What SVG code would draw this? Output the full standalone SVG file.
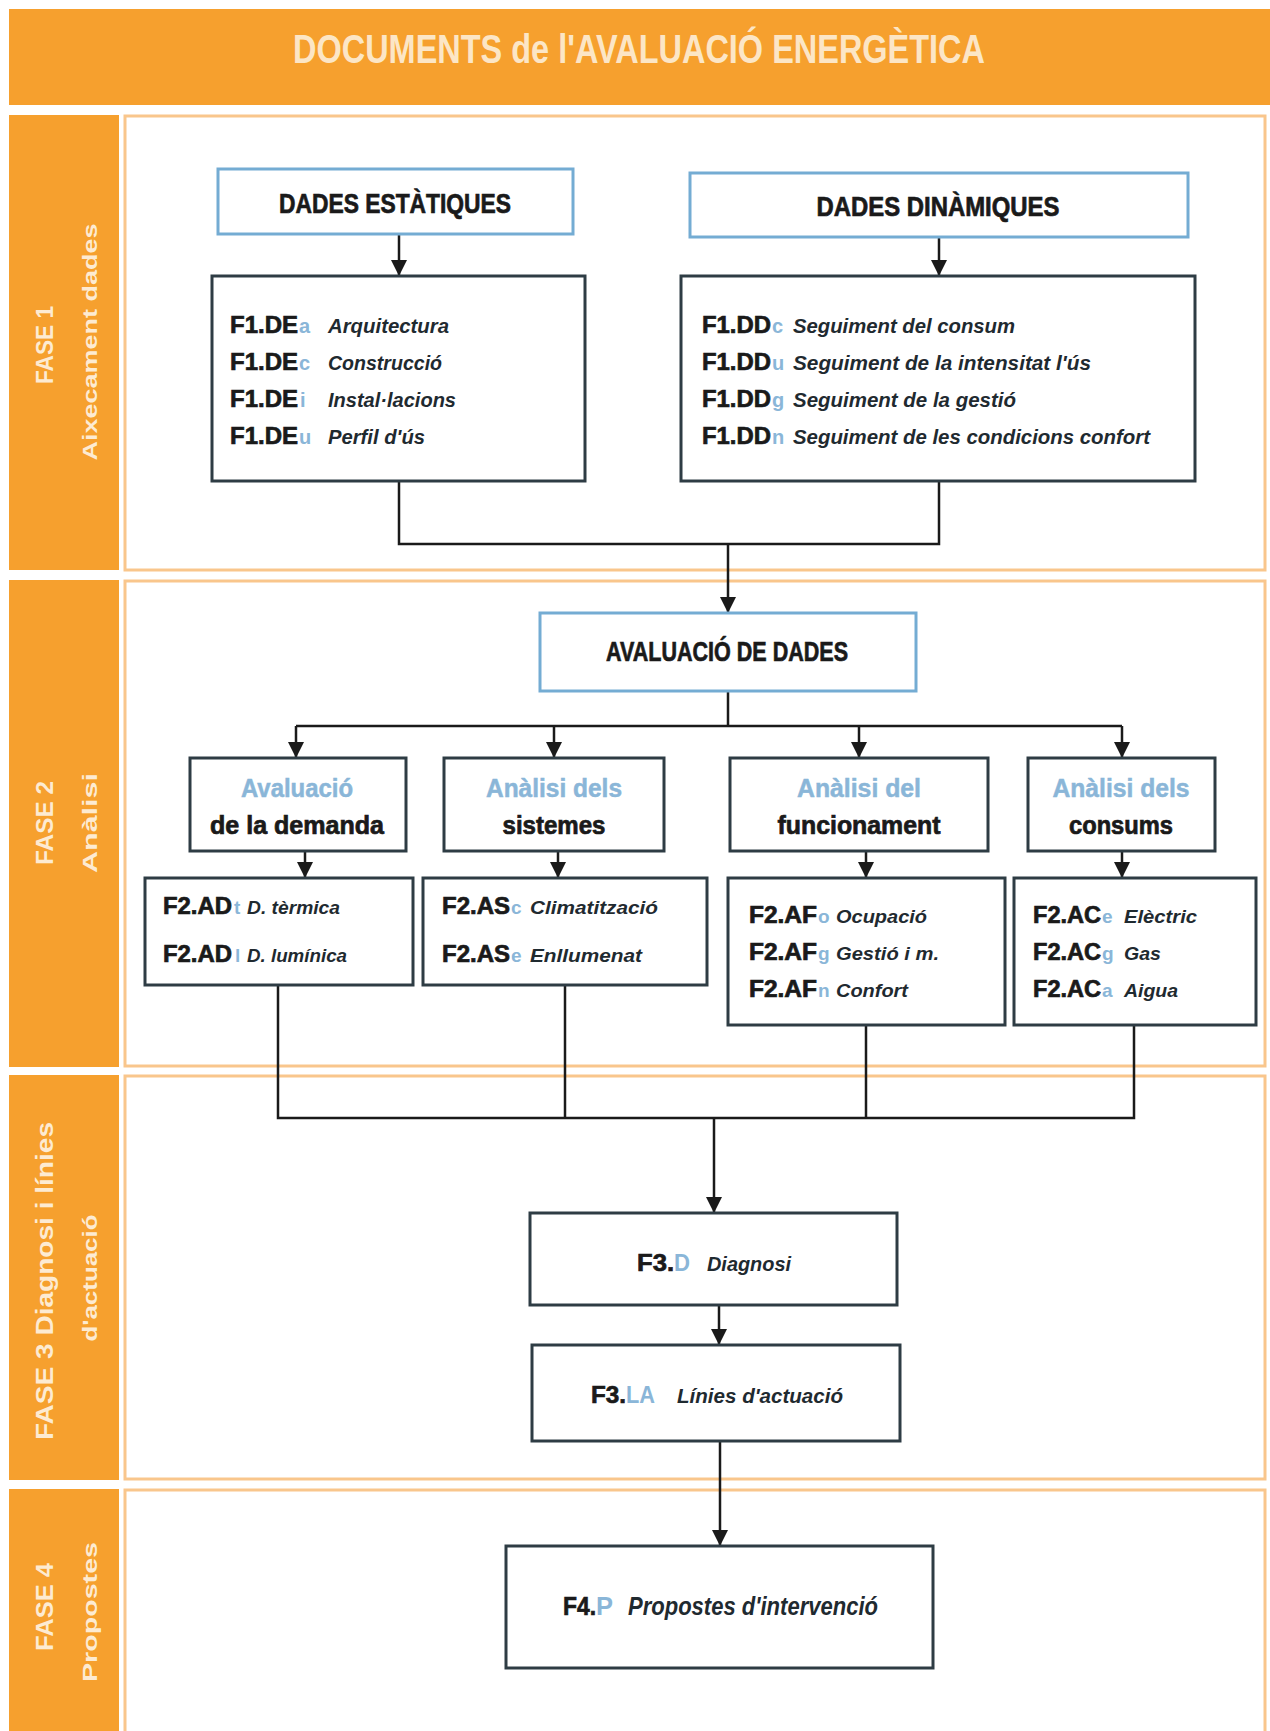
<svg xmlns="http://www.w3.org/2000/svg" width="1270" height="1731" viewBox="0 0 1270 1731">
<style>
.bar{fill:#f6a02e}
.frame{fill:#ffffff;stroke:#f9c68c;stroke-width:3}
.side{font-family:"Liberation Sans",Arial,sans-serif;font-weight:bold;fill:#fdebd2;text-anchor:middle}
.title{font-family:"Liberation Sans",Arial,sans-serif;font-weight:bold;fill:#fce6c6;font-size:40px;text-anchor:middle}
.bbox{fill:#ffffff;stroke:#74acd3;stroke-width:3}
.dbox{fill:#ffffff;stroke:#2e3c44;stroke-width:3}
.h{font-family:"Liberation Sans",Arial,sans-serif;font-weight:bold;fill:#1a1a1a;stroke:#1a1a1a;stroke-width:0.7;text-anchor:middle}
.hb{font-family:"Liberation Sans",Arial,sans-serif;font-weight:bold;fill:#8ab6d8;stroke:#8ab6d8;stroke-width:0.5;text-anchor:middle}
.code{font-family:"Liberation Sans",Arial,sans-serif;font-weight:bold;fill:#1a1a1a;stroke:#1a1a1a;stroke-width:0.7}
.lt{font-family:"Liberation Sans",Arial,sans-serif;font-weight:bold;fill:#8ab6d8}
.desc{font-family:"Liberation Sans",Arial,sans-serif;font-style:italic;font-weight:bold;fill:#1f2a30}
.conn{fill:none;stroke:#1a1a1a;stroke-width:2.5}
</style>
<defs>
<marker id="arr" markerUnits="userSpaceOnUse" markerWidth="16" markerHeight="16" refX="16" refY="8" orient="auto">
<path d="M0,0 L16,8 L0,16 z" fill="#1a1a1a"/>
</marker>
</defs>
<rect x="0" y="0" width="1270" height="1731" fill="#ffffff"/>

<g id="header">
<rect class="bar" x="9" y="9" width="1261" height="96"/>
<text class="title" x="639" y="63" textLength="692" lengthAdjust="spacingAndGlyphs">DOCUMENTS de l'AVALUACIÓ ENERGÈTICA</text>
</g>

<g id="phase1">
<rect class="bar" x="9" y="115" width="110" height="455"/>
<rect class="frame" x="125" y="116" width="1140" height="454"/>
<text class="side" font-size="24" transform="translate(53,345) rotate(-90)" textLength="78" lengthAdjust="spacingAndGlyphs">FASE 1</text>
<text class="side" font-size="21" transform="translate(97,342) rotate(-90)" textLength="237" lengthAdjust="spacingAndGlyphs">Aixecament dades</text>
</g>
<g id="phase2">
<rect class="bar" x="9" y="580" width="110" height="487"/>
<rect class="frame" x="125" y="581" width="1140" height="485"/>
<text class="side" font-size="24" transform="translate(53,823) rotate(-90)" textLength="84" lengthAdjust="spacingAndGlyphs">FASE 2</text>
<text class="side" font-size="21" transform="translate(97,823) rotate(-90)" textLength="100" lengthAdjust="spacingAndGlyphs">Anàlisi</text>
</g>
<g id="phase3">
<rect class="bar" x="9" y="1075" width="110" height="405"/>
<rect class="frame" x="125" y="1076" width="1140" height="403"/>
<text class="side" font-size="24" transform="translate(53,1281) rotate(-90)" textLength="318" lengthAdjust="spacingAndGlyphs">FASE 3  Diagnosi i línies</text>
<text class="side" font-size="21" transform="translate(97,1278) rotate(-90)" textLength="127" lengthAdjust="spacingAndGlyphs">d'actuació</text>
</g>
<g id="phase4">
<rect class="bar" x="9" y="1489" width="110" height="242"/>
<rect class="frame" x="125" y="1490" width="1140" height="245"/>
<text class="side" font-size="24" transform="translate(53,1607) rotate(-90)" textLength="88" lengthAdjust="spacingAndGlyphs">FASE 4</text>
<text class="side" font-size="21" transform="translate(97,1612) rotate(-90)" textLength="140" lengthAdjust="spacingAndGlyphs">Propostes</text>
</g>

<g id="connectors">
<path class="conn" d="M399,234 V276" marker-end="url(#arr)"/>
<path class="conn" d="M939,237 V276" marker-end="url(#arr)"/>
<path class="conn" d="M399,481 V544 H939 V481"/>
<path class="conn" d="M728,544 V613" marker-end="url(#arr)"/>
<path class="conn" d="M728,691 V726"/>
<path class="conn" d="M296,726 H1122"/>
<path class="conn" d="M296,726 V758" marker-end="url(#arr)"/>
<path class="conn" d="M554,726 V758" marker-end="url(#arr)"/>
<path class="conn" d="M859,726 V758" marker-end="url(#arr)"/>
<path class="conn" d="M1122,726 V758" marker-end="url(#arr)"/>
<path class="conn" d="M305,851 V878" marker-end="url(#arr)"/>
<path class="conn" d="M558,851 V878" marker-end="url(#arr)"/>
<path class="conn" d="M866,851 V878" marker-end="url(#arr)"/>
<path class="conn" d="M1122,851 V878" marker-end="url(#arr)"/>
<path class="conn" d="M278,985 V1118 H1134 V1025"/>
<path class="conn" d="M565,985 V1118"/>
<path class="conn" d="M866,1025 V1118"/>
<path class="conn" d="M714,1118 V1213" marker-end="url(#arr)"/>
<path class="conn" d="M719,1305 V1345" marker-end="url(#arr)"/>
<path class="conn" d="M720,1441 V1546" marker-end="url(#arr)"/>
</g>

<g id="dades-estatiques">
<rect class="bbox" x="218" y="169" width="355" height="65"/>
<text class="h" x="395" y="213" font-size="27" textLength="232" lengthAdjust="spacingAndGlyphs">DADES ESTÀTIQUES</text>
</g>
<g id="dades-dinamiques">
<rect class="bbox" x="690" y="173" width="498" height="64"/>
<text class="h" x="938" y="216" font-size="27" textLength="243" lengthAdjust="spacingAndGlyphs">DADES DINÀMIQUES</text>
</g>

<g id="f1-de">
<rect class="dbox" x="212" y="276" width="373" height="205"/>
<text class="code" x="230" y="333" font-size="24" textLength="68" lengthAdjust="spacingAndGlyphs">F1.DE</text>
<text class="lt" x="299" y="333" font-size="20">a</text>
<text class="desc" x="328" y="333" font-size="21" font-weight="normal" textLength="121" lengthAdjust="spacingAndGlyphs">Arquitectura</text>
<text class="code" x="230" y="370" font-size="24" textLength="68" lengthAdjust="spacingAndGlyphs">F1.DE</text>
<text class="lt" x="299" y="370" font-size="20">c</text>
<text class="desc" x="328" y="370" font-size="21" font-weight="normal" textLength="114" lengthAdjust="spacingAndGlyphs">Construcció</text>
<text class="code" x="230" y="407" font-size="24" textLength="68" lengthAdjust="spacingAndGlyphs">F1.DE</text>
<text class="lt" x="300" y="407" font-size="20">i</text>
<text class="desc" x="328" y="407" font-size="21" font-weight="normal" textLength="128" lengthAdjust="spacingAndGlyphs">Instal·lacions</text>
<text class="code" x="230" y="444" font-size="24" textLength="68" lengthAdjust="spacingAndGlyphs">F1.DE</text>
<text class="lt" x="299" y="444" font-size="20">u</text>
<text class="desc" x="328" y="444" font-size="21" font-weight="normal" textLength="97" lengthAdjust="spacingAndGlyphs">Perfil d'ús</text>
</g>

<g id="f1-dd">
<rect class="dbox" x="681" y="276" width="514" height="205"/>
<text class="code" x="702" y="333" font-size="24" textLength="69" lengthAdjust="spacingAndGlyphs">F1.DD</text>
<text class="lt" x="772" y="333" font-size="20">c</text>
<text class="desc" x="793" y="333" font-size="21" font-weight="normal" textLength="222" lengthAdjust="spacingAndGlyphs">Seguiment del consum</text>
<text class="code" x="702" y="370" font-size="24" textLength="69" lengthAdjust="spacingAndGlyphs">F1.DD</text>
<text class="lt" x="772" y="370" font-size="20">u</text>
<text class="desc" x="793" y="370" font-size="21" font-weight="normal" textLength="298" lengthAdjust="spacingAndGlyphs">Seguiment de la intensitat l'ús</text>
<text class="code" x="702" y="407" font-size="24" textLength="69" lengthAdjust="spacingAndGlyphs">F1.DD</text>
<text class="lt" x="772" y="407" font-size="20">g</text>
<text class="desc" x="793" y="407" font-size="21" font-weight="normal" textLength="223" lengthAdjust="spacingAndGlyphs">Seguiment de la gestió</text>
<text class="code" x="702" y="444" font-size="24" textLength="69" lengthAdjust="spacingAndGlyphs">F1.DD</text>
<text class="lt" x="772" y="444" font-size="20">n</text>
<text class="desc" x="793" y="444" font-size="21" font-weight="normal" textLength="357" lengthAdjust="spacingAndGlyphs">Seguiment de les condicions confort</text>
</g>

<g id="avaluacio-dades">
<rect class="bbox" x="540" y="613" width="376" height="78"/>
<text class="h" x="727" y="661" font-size="27" textLength="242" lengthAdjust="spacingAndGlyphs">AVALUACIÓ DE DADES</text>
</g>

<g id="h-demanda">
<rect class="dbox" x="190" y="758" width="216" height="93"/>
<text class="hb" x="297" y="797" font-size="25" textLength="112" lengthAdjust="spacingAndGlyphs">Avaluació</text>
<text class="h" x="297" y="834" font-size="25" textLength="174" lengthAdjust="spacingAndGlyphs">de la demanda</text>
</g>
<g id="h-sistemes">
<rect class="dbox" x="444" y="758" width="220" height="93"/>
<text class="hb" x="554" y="797" font-size="25" textLength="136" lengthAdjust="spacingAndGlyphs">Anàlisi dels</text>
<text class="h" x="554" y="834" font-size="25" textLength="103" lengthAdjust="spacingAndGlyphs">sistemes</text>
</g>
<g id="h-funcionament">
<rect class="dbox" x="730" y="758" width="258" height="93"/>
<text class="hb" x="859" y="797" font-size="25" textLength="124" lengthAdjust="spacingAndGlyphs">Anàlisi del</text>
<text class="h" x="859" y="834" font-size="25" textLength="163" lengthAdjust="spacingAndGlyphs">funcionament</text>
</g>
<g id="h-consums">
<rect class="dbox" x="1028" y="758" width="187" height="93"/>
<text class="hb" x="1121" y="797" font-size="25" textLength="137" lengthAdjust="spacingAndGlyphs">Anàlisi dels</text>
<text class="h" x="1121" y="834" font-size="25" textLength="104" lengthAdjust="spacingAndGlyphs">consums</text>
</g>

<g id="f2-ad">
<rect class="dbox" x="145" y="878" width="268" height="107"/>
<text class="code" x="163" y="914" font-size="23" textLength="69" lengthAdjust="spacingAndGlyphs">F2.AD</text>
<text class="lt" x="234" y="914" font-size="19">t</text>
<text class="desc" x="247" y="914" font-size="18" textLength="93" lengthAdjust="spacingAndGlyphs">D. tèrmica</text>
<text class="code" x="163" y="962" font-size="23" textLength="69" lengthAdjust="spacingAndGlyphs">F2.AD</text>
<text class="lt" x="235" y="962" font-size="19">l</text>
<text class="desc" x="247" y="962" font-size="18" textLength="100" lengthAdjust="spacingAndGlyphs">D. lumínica</text>
</g>
<g id="f2-as">
<rect class="dbox" x="423" y="878" width="284" height="107"/>
<text class="code" x="442" y="914" font-size="23" textLength="68" lengthAdjust="spacingAndGlyphs">F2.AS</text>
<text class="lt" x="511" y="914" font-size="19">c</text>
<text class="desc" x="530" y="914" font-size="19" textLength="128" lengthAdjust="spacingAndGlyphs">Climatització</text>
<text class="code" x="442" y="962" font-size="23" textLength="68" lengthAdjust="spacingAndGlyphs">F2.AS</text>
<text class="lt" x="511" y="962" font-size="19">e</text>
<text class="desc" x="530" y="962" font-size="19" textLength="112" lengthAdjust="spacingAndGlyphs">Enllumenat</text>
</g>
<g id="f2-af">
<rect class="dbox" x="728" y="878" width="277" height="147"/>
<text class="code" x="749" y="923" font-size="23" textLength="68" lengthAdjust="spacingAndGlyphs">F2.AF</text>
<text class="lt" x="818" y="923" font-size="19">o</text>
<text class="desc" x="836" y="923" font-size="19" textLength="91" lengthAdjust="spacingAndGlyphs">Ocupació</text>
<text class="code" x="749" y="960" font-size="23" textLength="68" lengthAdjust="spacingAndGlyphs">F2.AF</text>
<text class="lt" x="818" y="960" font-size="19">g</text>
<text class="desc" x="836" y="960" font-size="19" textLength="103" lengthAdjust="spacingAndGlyphs">Gestió i m.</text>
<text class="code" x="749" y="997" font-size="23" textLength="68" lengthAdjust="spacingAndGlyphs">F2.AF</text>
<text class="lt" x="818" y="997" font-size="19">n</text>
<text class="desc" x="836" y="997" font-size="19" textLength="72" lengthAdjust="spacingAndGlyphs">Confort</text>
</g>
<g id="f2-ac">
<rect class="dbox" x="1014" y="878" width="242" height="147"/>
<text class="code" x="1033" y="923" font-size="23" textLength="68" lengthAdjust="spacingAndGlyphs">F2.AC</text>
<text class="lt" x="1102" y="923" font-size="19">e</text>
<text class="desc" x="1124" y="923" font-size="19" textLength="73" lengthAdjust="spacingAndGlyphs">Elèctric</text>
<text class="code" x="1033" y="960" font-size="23" textLength="68" lengthAdjust="spacingAndGlyphs">F2.AC</text>
<text class="lt" x="1102" y="960" font-size="19">g</text>
<text class="desc" x="1124" y="960" font-size="19" textLength="37" lengthAdjust="spacingAndGlyphs">Gas</text>
<text class="code" x="1033" y="997" font-size="23" textLength="68" lengthAdjust="spacingAndGlyphs">F2.AC</text>
<text class="lt" x="1102" y="997" font-size="19">a</text>
<text class="desc" x="1124" y="997" font-size="19" textLength="54" lengthAdjust="spacingAndGlyphs">Aigua</text>
</g>

<g id="f3-d">
<rect class="dbox" x="530" y="1213" width="367" height="92"/>
<text class="code" x="637" y="1271" font-size="24" textLength="37" lengthAdjust="spacingAndGlyphs">F3.</text>
<text class="lt" x="674" y="1271" font-size="24" textLength="16" lengthAdjust="spacingAndGlyphs">D</text>
<text class="desc" x="707" y="1271" font-size="20" textLength="84" lengthAdjust="spacingAndGlyphs">Diagnosi</text>
</g>
<g id="f3-la">
<rect class="dbox" x="532" y="1345" width="368" height="96"/>
<text class="code" x="591" y="1403" font-size="24" textLength="35" lengthAdjust="spacingAndGlyphs">F3.</text>
<text class="lt" x="626" y="1403" font-size="24" textLength="29" lengthAdjust="spacingAndGlyphs">LA</text>
<text class="desc" x="677" y="1403" font-size="20" textLength="166" lengthAdjust="spacingAndGlyphs">Línies d'actuació</text>
</g>
<g id="f4-p">
<rect class="dbox" x="506" y="1546" width="427" height="122"/>
<text class="code" x="563" y="1615" font-size="25" textLength="33" lengthAdjust="spacingAndGlyphs">F4.</text>
<text class="lt" x="596" y="1615" font-size="25" textLength="17" lengthAdjust="spacingAndGlyphs">P</text>
<text class="desc" x="628" y="1615" font-size="25" font-family="'Open Sans','Liberation Sans',sans-serif" font-weight="600" textLength="250" lengthAdjust="spacingAndGlyphs">Propostes d'intervenció</text>
</g>
</svg>
